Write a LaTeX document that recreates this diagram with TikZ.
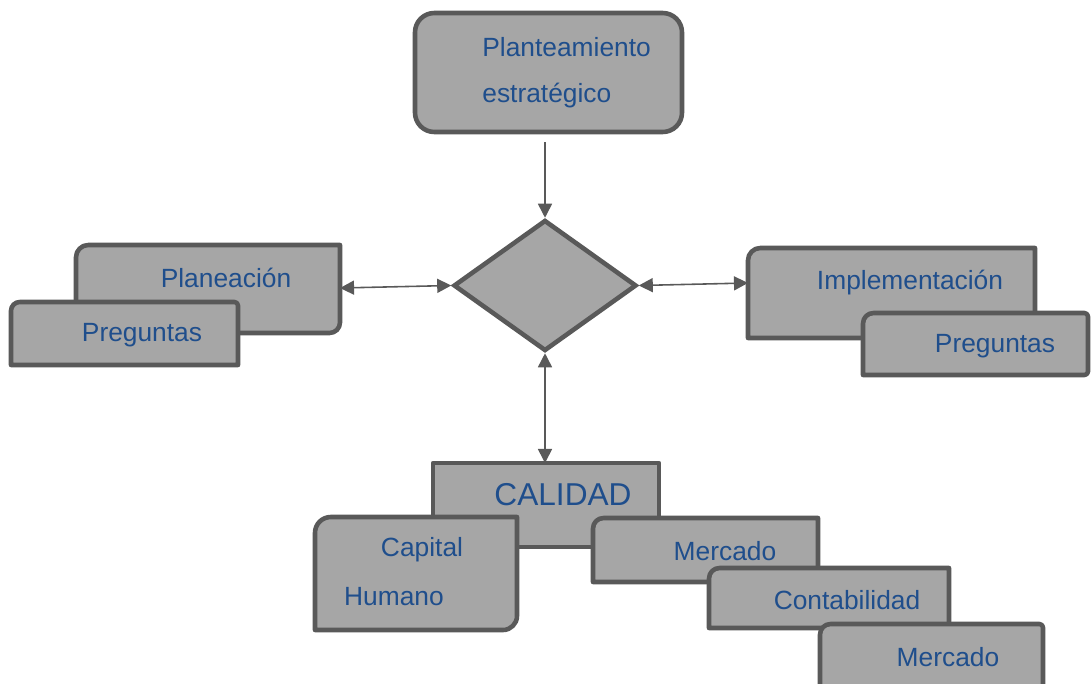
\documentclass[tikz,border=0pt]{standalone}
\usepackage{fontspec}
\setmainfont{Liberation Sans}
\usetikzlibrary{shapes.geometric,arrows.meta}

\definecolor{boxfill}{HTML}{A6A6A6}
\definecolor{boxline}{HTML}{595959}
\definecolor{boxtext}{RGB}{31,78,140}

\tikzset{
  tab/.style={fill=boxfill, draw=boxline, line width=2.6pt, line join=round},
  lbl/.style={text=boxtext, font=\fontsize{15}{26}\selectfont, inner sep=0pt},
  link/.style={draw=boxline, line width=0.9pt, >={Triangle[length=8pt,width=8pt]}}
}

\begin{document}
\begin{tikzpicture}[x=0.02cm, y=-0.02cm]
    \useasboundingbox (0,0) rectangle (1091,683);

    % Planteamiento estrategico
    \filldraw[tab, rounded corners=11pt] (415,13) rectangle (682,132);
    \node[lbl, anchor=west, align=left] (tPlant) at (482,73) {Planteamiento\\estratégico};
    \coordinate (plantS) at (545,142);

    % Diamond
    \node[diamond, fill=boxfill, draw=boxline, line width=2.6pt, inner sep=0pt,
          minimum width=3.66cm, minimum height=2.62cm] (dia) at (545,285.5) {};

    % Planeacion
    \filldraw[tab] (76,333) [rounded corners=7pt] -- (76,245) [sharp corners] -- (340,245)
        [rounded corners=6pt] -- (340,333) [sharp corners] -- cycle;
    \node[lbl] (tPlan) at (226,278) {Planeación};
    \coordinate (planE) at (340,288);
    % Preguntas (left)
    \filldraw[tab] (11,365) [rounded corners=5pt] -- (11,302) [rounded corners=2pt] -- (238,302)
        [sharp corners] -- (238,365) -- cycle;
    \node[lbl] (tPregL) at (142,335) {Preguntas};

    % Implementacion
    \filldraw[tab] (748,338) [rounded corners=7pt] -- (748,248) [sharp corners] -- (1035,248)
        -- (1035,338) -- cycle;
    \node[lbl] (tImpl) at (910,283) {Implementación};
    \coordinate (implW) at (748,283);
    % Preguntas (right)
    \filldraw[tab] (863,375) [rounded corners=6pt] -- (863,313) [rounded corners=2pt] -- (1088,313)
        -- (1088,375) [sharp corners] -- cycle;
    \node[lbl] (tPregR) at (995,346) {Preguntas};

    % CALIDAD
    \filldraw[tab] (433,463) rectangle (659,547);
    \node[lbl, font=\fontsize{18}{22}\selectfont] (tCal) at (563,495) {CALIDAD};
    \coordinate (calN) at (545,463);

    % Capital Humano
    \filldraw[tab] (315,630) [rounded corners=9pt] -- (315,517) [sharp corners] -- (517,517)
        [rounded corners=8pt] -- (517,630) [sharp corners] -- cycle;
    \node[lbl] (tCap) at (422,550) {Capital};
    \node[lbl] (tHum) at (394,597) {Humano};

    % Mercado / Contabilidad / Mercado
    \filldraw[tab] (593,582) [rounded corners=6pt] -- (593,518) [sharp corners] -- (818,518)
        -- (818,582) -- cycle;
    \node[lbl] (tMerc) at (725,551) {Mercado};
    \filldraw[tab] (709,628) [rounded corners=6pt] -- (709,568) [sharp corners] -- (949,568)
        -- (949,628) -- cycle;
    \node[lbl] (tCont) at (847,600) {Contabilidad};
    \filldraw[tab] (820,695) [rounded corners=6pt] -- (820,624) [rounded corners=2pt] -- (1043,624)
        -- (1043,695) [sharp corners] -- cycle;
    \node[lbl] (tMercB) at (948,657) {Mercado};

    % Arrows
    \draw[link, ->] (plantS) -- (dia.north);
    \draw[link, <->] (planE) -- (dia.west);
    \draw[link, <->] (dia.east) -- (implW);
    \draw[link, <->] (dia.south) -- (calN);

\end{tikzpicture}
\end{document}
